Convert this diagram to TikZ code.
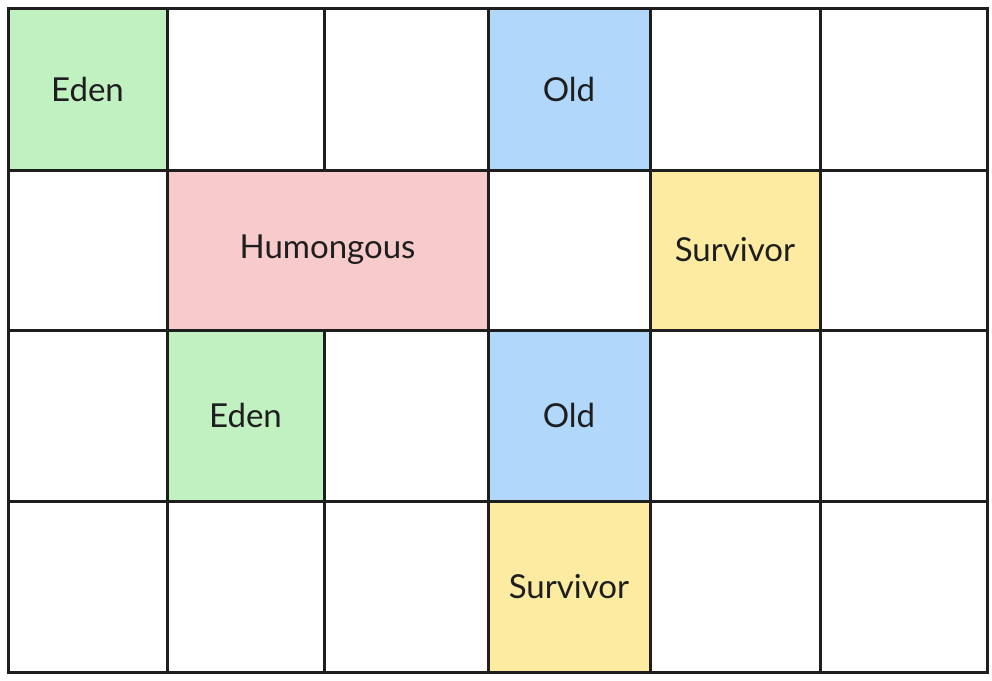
\documentclass[tikz,border=0pt]{standalone}
\usepackage{fontspec}
\setmainfont{Lato}
\definecolor{edenC}{HTML}{C1F0C1}
\definecolor{oldC}{HTML}{B1D7FA}
\definecolor{humC}{HTML}{F7CACB}
\definecolor{survC}{HTML}{FCEBA1}
\definecolor{inkC}{HTML}{1E1E1E}
\tikzset{
  region/.style={draw=inkC, line width=3pt, inner sep=0pt, outer sep=0pt,
    rectangle, font=\fontsize{33}{38}\selectfont, text=inkC},
}
\newcommand{\gcell}[7]{%
  \pgfmathsetmacro{\cw}{#4-#2}%
  \pgfmathsetmacro{\ch}{#5-#3}%
  \pgfmathsetmacro{\cx}{(#2+#4)/2}%
  \pgfmathsetmacro{\cy}{(#3+#5)/2}%
  \node[region, fill=#6, minimum width=\cw pt, minimum height=\ch pt]
    (#1) at (\cx,\cy) {#7};}
\begin{document}
\begin{tikzpicture}[x=1pt,y=-1pt]
\useasboundingbox (0,0) rectangle (992,680);
% row 1
\gcell{a1}{8}{8}{167}{170}{edenC}{Eden}
\gcell{a2}{167}{8}{324}{170}{white}{}
\gcell{a3}{324}{8}{488}{170}{white}{}
\gcell{a4}{488}{8}{650}{170}{oldC}{Old}
\gcell{a5}{650}{8}{820}{170}{white}{}
\gcell{a6}{820}{8}{987}{170}{white}{}
% row 2
\gcell{b1}{8}{170}{167}{330}{white}{}
\gcell{b2}{167}{170}{488}{330}{humC}{Humongous}
\gcell{b4}{488}{170}{650}{330}{white}{}
\gcell{b5}{650}{170}{820}{330}{survC}{Survivor}
\gcell{b6}{820}{170}{987}{330}{white}{}
% row 3
\gcell{c1}{8}{330}{167}{501}{white}{}
\gcell{c2}{167}{330}{324}{501}{edenC}{Eden}
\gcell{c3}{324}{330}{488}{501}{white}{}
\gcell{c4}{488}{330}{650}{501}{oldC}{Old}
\gcell{c5}{650}{330}{820}{501}{white}{}
\gcell{c6}{820}{330}{987}{501}{white}{}
% row 4
\gcell{d1}{8}{501}{167}{672}{white}{}
\gcell{d2}{167}{501}{324}{672}{white}{}
\gcell{d3}{324}{501}{488}{672}{white}{}
\gcell{d4}{488}{501}{650}{672}{survC}{Survivor}
\gcell{d5}{650}{501}{820}{672}{white}{}
\gcell{d6}{820}{501}{987}{672}{white}{}
\end{tikzpicture}
\end{document}
